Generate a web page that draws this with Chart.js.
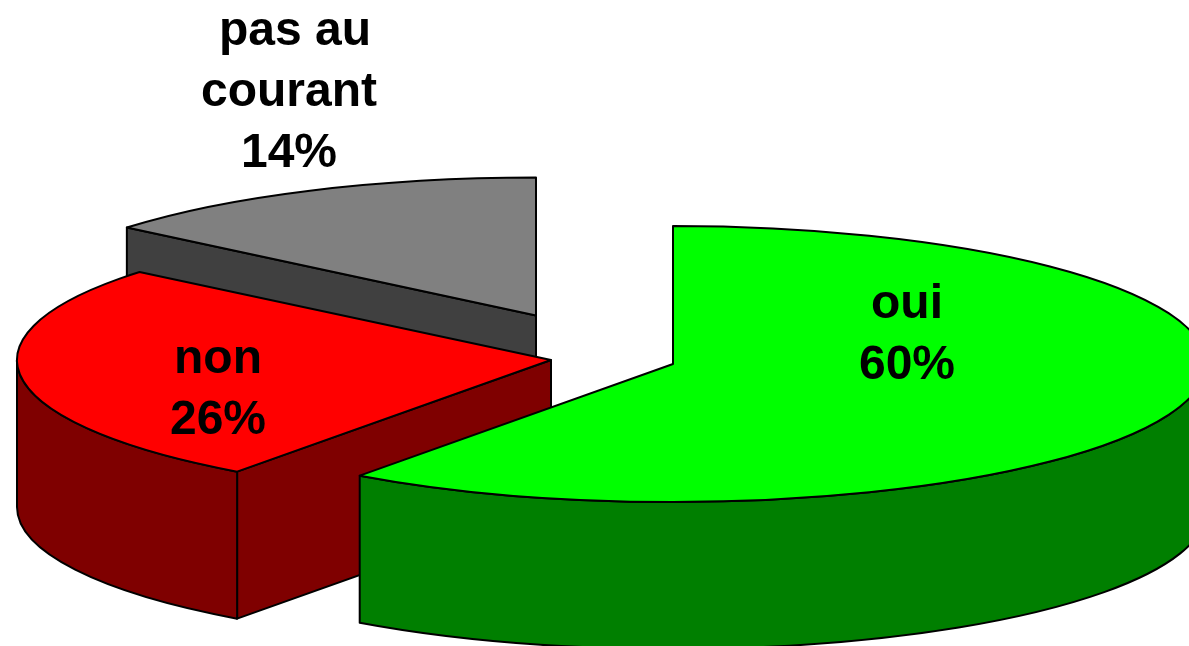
<!DOCTYPE html>
<html><head><meta charset="utf-8"><title>Pie</title>
<style>html,body{margin:0;padding:0;background:#fff;overflow:hidden}canvas{display:block}</style>
<script src="https://cdn.jsdelivr.net/npm/chart.js@4"></script></head>
<body><canvas id="c" width="1189" height="646"></canvas>
<script>
const categories = ['oui', 'non', 'pas au courant'];
const values = [60, 26, 14];
const labelLines = [['oui'], ['non'], ['pas au', 'courant']];
const topColors = ['#00ff00', '#ff0000', '#808080'];
const sideColors = ['#007f00', '#7f0000', '#404040'];

// Presentation of the exploded, tilted pie
const baseRadius = 300, radiusY = 138, depth = 147;
const radiiX = [533, 534, 531];
const explode = [[78.5, 41], [-43.5, 37], [-58.5, -7.5]];
const labelAnchors = [[907, 318], [218, 373], [289, 45]];
const lineOffsets = [[0], [0], [6, 0]];
const lineGap = 61;

function wallPath(ctx, pts) {
  ctx.beginPath();
  pts.forEach((p, i) => i ? ctx.lineTo(p[0], p[1]) : ctx.moveTo(p[0], p[1]));
  ctx.closePath();
}
function paint(ctx, fill, stroke) {
  ctx.fillStyle = fill; ctx.fill();
  ctx.strokeStyle = stroke; ctx.lineWidth = 2; ctx.lineJoin = 'round'; ctx.stroke();
}
const tiltedPie = {
  id: 'tiltedPie',
  beforeDatasetDraw(chart, args) {
    const ctx = chart.ctx;
    const arcs = chart.getDatasetMeta(args.index).data;
    ctx.save();
    for (let i = arcs.length - 1; i >= 0; i--) {
      const arc = arcs[i], o = arc.options;
      const kx = radiiX[i] / arc.outerRadius, ky = radiusY / arc.outerRadius;
      const rx = arc.outerRadius * kx, ry = arc.outerRadius * ky;
      const cx = arc.x + explode[i][0], cy = arc.y + explode[i][1];
      const a0 = arc.startAngle, a1 = arc.endAngle;
      const rim = t => [cx + rx * Math.cos(t), cy + ry * Math.sin(t)];
      // cut faces that look towards the viewer
      [[a0, a0 - Math.PI / 2], [a1, a1 + Math.PI / 2]].forEach(([t, n]) => {
        if (Math.sin(n) > 1e-6) {
          const p = rim(t);
          wallPath(ctx, [[cx, cy], p, [p[0], p[1] + depth], [cx, cy + depth]]);
          paint(ctx, sideColors[i], o.borderColor);
        }
      });
      // outer wall: only the front half of the rim
      const w0 = Math.max(a0, 0), w1 = Math.min(a1, Math.PI);
      if (w1 > w0) {
        ctx.beginPath();
        ctx.ellipse(cx, cy, rx, ry, 0, w0, w1, false);
        ctx.ellipse(cx, cy + depth, rx, ry, 0, w1, w0, true);
        ctx.closePath();
        paint(ctx, sideColors[i], o.borderColor);
      }
      // top face
      ctx.beginPath();
      ctx.moveTo(cx, cy);
      ctx.ellipse(cx, cy, rx, ry, 0, a0, a1, false);
      ctx.closePath();
      paint(ctx, o.backgroundColor, o.borderColor);
    }
    ctx.restore();
    return false;
  },
  afterDatasetsDraw(chart) {
    const ctx = chart.ctx;
    const data = chart.data.datasets[0].data;
    ctx.save();
    ctx.fillStyle = '#000';
    ctx.font = 'bold 48px "Liberation Sans", Arial, sans-serif';
    ctx.textAlign = 'center';
    ctx.textBaseline = 'alphabetic';
    data.forEach((v, i) => {
      const lines = labelLines[i].concat(v + '%');
      lines.forEach((line, j) => {
        const dx = lineOffsets[i][j] || 0;
        ctx.fillText(line, labelAnchors[i][0] + dx, labelAnchors[i][1] + j * lineGap);
      });
    });
    ctx.restore();
  }
};
new Chart(document.getElementById('c'), {
  type: 'pie',
  data: {
    labels: categories,
    datasets: [{
      data: values,
      backgroundColor: topColors,
      borderColor: '#000',
      borderWidth: 2,
      radius: baseRadius
    }]
  },
  options: {
    responsive: false,
    animation: false,
    plugins: { legend: { display: false }, tooltip: { enabled: false } }
  },
  plugins: [tiltedPie]
});
</script></body></html>
